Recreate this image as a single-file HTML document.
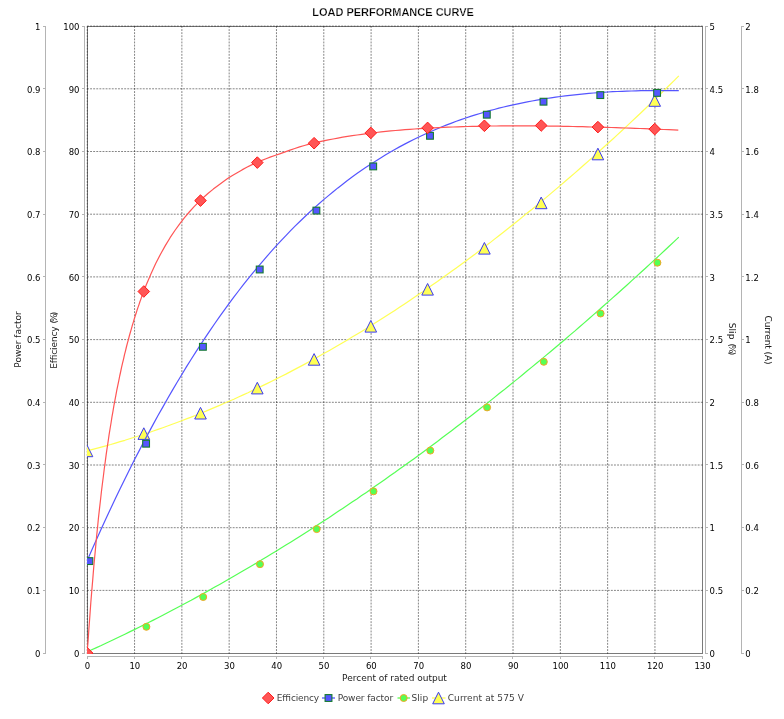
<!DOCTYPE html>
<html lang="en"><head><meta charset="utf-8"><title>LOAD PERFORMANCE CURVE</title>
<style>
html,body{margin:0;padding:0;background:#fff;}
body{width:784px;height:719px;overflow:hidden;}
svg{display:block;}
text{font-family:"DejaVu Sans","Liberation Sans",sans-serif;font-size:9px;fill:#1a1a1a;}
.title{font-family:"Liberation Sans","DejaVu Sans",sans-serif;font-weight:bold;font-size:11px;fill:#000;stroke:#fff;stroke-width:0.25px;}
.lg{fill:#404040;}
.tk text{font-size:8.5px;fill:#000;}
.grid line{stroke:#202020;stroke-width:0.55;stroke-dasharray:1.9 1.2;}
.axis line{stroke:#b4b4b4;stroke-width:1;shape-rendering:crispEdges;}
.curve g>path:first-child{fill:none;stroke-width:1.2;stroke-linejoin:round;}
</style></head><body>
<svg width="784" height="719" viewBox="0 0 784 719">
<rect width="784" height="719" fill="#ffffff"/>
<defs><clipPath id="pc"><rect x="87" y="26" width="616" height="628"/></clipPath></defs>
<text class="title" x="393.1" y="15.8" text-anchor="middle">LOAD PERFORMANCE CURVE</text>
<rect x="87.5" y="26.5" width="615" height="627" fill="#fff" stroke="#7a7a7a" stroke-width="1" shape-rendering="crispEdges"/>
<g class="grid">
<line x1="87.25" y1="26" x2="87.25" y2="654"/><line x1="134.56" y1="26" x2="134.56" y2="654"/><line x1="181.87" y1="26" x2="181.87" y2="654"/><line x1="229.17" y1="26" x2="229.17" y2="654"/><line x1="276.48" y1="26" x2="276.48" y2="654"/><line x1="323.79" y1="26" x2="323.79" y2="654"/><line x1="371.10" y1="26" x2="371.10" y2="654"/><line x1="418.40" y1="26" x2="418.40" y2="654"/><line x1="465.71" y1="26" x2="465.71" y2="654"/><line x1="513.02" y1="26" x2="513.02" y2="654"/><line x1="560.33" y1="26" x2="560.33" y2="654"/><line x1="607.63" y1="26" x2="607.63" y2="654"/><line x1="654.94" y1="26" x2="654.94" y2="654"/>
<line x1="87" y1="590.40" x2="703" y2="590.40"/><line x1="87" y1="527.70" x2="703" y2="527.70"/><line x1="87" y1="465.00" x2="703" y2="465.00"/><line x1="87" y1="402.30" x2="703" y2="402.30"/><line x1="87" y1="339.60" x2="703" y2="339.60"/><line x1="87" y1="276.90" x2="703" y2="276.90"/><line x1="87" y1="214.20" x2="703" y2="214.20"/><line x1="87" y1="151.50" x2="703" y2="151.50"/><line x1="87" y1="88.80" x2="703" y2="88.80"/><line x1="87" y1="26.10" x2="703" y2="26.10"/>
</g>
<g class="axis">
<line x1="45.5" y1="26" x2="45.5" y2="654"/><line x1="43.0" y1="653.5" x2="45.5" y2="653.5"/><line x1="43.0" y1="590.5" x2="45.5" y2="590.5"/><line x1="43.0" y1="527.5" x2="45.5" y2="527.5"/><line x1="43.0" y1="464.5" x2="45.5" y2="464.5"/><line x1="43.0" y1="402.5" x2="45.5" y2="402.5"/><line x1="43.0" y1="339.5" x2="45.5" y2="339.5"/><line x1="43.0" y1="276.5" x2="45.5" y2="276.5"/><line x1="43.0" y1="214.5" x2="45.5" y2="214.5"/><line x1="43.0" y1="151.5" x2="45.5" y2="151.5"/><line x1="43.0" y1="88.5" x2="45.5" y2="88.5"/><line x1="43.0" y1="26.5" x2="45.5" y2="26.5"/><line x1="84.5" y1="26" x2="84.5" y2="654"/><line x1="82.0" y1="653.5" x2="84.5" y2="653.5"/><line x1="82.0" y1="590.5" x2="84.5" y2="590.5"/><line x1="82.0" y1="527.5" x2="84.5" y2="527.5"/><line x1="82.0" y1="464.5" x2="84.5" y2="464.5"/><line x1="82.0" y1="402.5" x2="84.5" y2="402.5"/><line x1="82.0" y1="339.5" x2="84.5" y2="339.5"/><line x1="82.0" y1="276.5" x2="84.5" y2="276.5"/><line x1="82.0" y1="214.5" x2="84.5" y2="214.5"/><line x1="82.0" y1="151.5" x2="84.5" y2="151.5"/><line x1="82.0" y1="88.5" x2="84.5" y2="88.5"/><line x1="82.0" y1="26.5" x2="84.5" y2="26.5"/><line x1="705.5" y1="26" x2="705.5" y2="654"/><line x1="705.5" y1="653.5" x2="708.0" y2="653.5"/><line x1="705.5" y1="590.5" x2="708.0" y2="590.5"/><line x1="705.5" y1="527.5" x2="708.0" y2="527.5"/><line x1="705.5" y1="464.5" x2="708.0" y2="464.5"/><line x1="705.5" y1="402.5" x2="708.0" y2="402.5"/><line x1="705.5" y1="339.5" x2="708.0" y2="339.5"/><line x1="705.5" y1="276.5" x2="708.0" y2="276.5"/><line x1="705.5" y1="214.5" x2="708.0" y2="214.5"/><line x1="705.5" y1="151.5" x2="708.0" y2="151.5"/><line x1="705.5" y1="88.5" x2="708.0" y2="88.5"/><line x1="705.5" y1="26.5" x2="708.0" y2="26.5"/><line x1="741.5" y1="26" x2="741.5" y2="654"/><line x1="741.5" y1="653.5" x2="744.0" y2="653.5"/><line x1="741.5" y1="590.5" x2="744.0" y2="590.5"/><line x1="741.5" y1="527.5" x2="744.0" y2="527.5"/><line x1="741.5" y1="464.5" x2="744.0" y2="464.5"/><line x1="741.5" y1="402.5" x2="744.0" y2="402.5"/><line x1="741.5" y1="339.5" x2="744.0" y2="339.5"/><line x1="741.5" y1="276.5" x2="744.0" y2="276.5"/><line x1="741.5" y1="214.5" x2="744.0" y2="214.5"/><line x1="741.5" y1="151.5" x2="744.0" y2="151.5"/><line x1="741.5" y1="88.5" x2="744.0" y2="88.5"/><line x1="741.5" y1="26.5" x2="744.0" y2="26.5"/><line x1="87" y1="656.5" x2="703" y2="656.5"/><line x1="87.5" y1="656" x2="87.5" y2="659"/><line x1="134.5" y1="656" x2="134.5" y2="659"/><line x1="181.5" y1="656" x2="181.5" y2="659"/><line x1="228.5" y1="656" x2="228.5" y2="659"/><line x1="276.5" y1="656" x2="276.5" y2="659"/><line x1="323.5" y1="656" x2="323.5" y2="659"/><line x1="370.5" y1="656" x2="370.5" y2="659"/><line x1="418.5" y1="656" x2="418.5" y2="659"/><line x1="465.5" y1="656" x2="465.5" y2="659"/><line x1="512.5" y1="656" x2="512.5" y2="659"/><line x1="560.5" y1="656" x2="560.5" y2="659"/><line x1="607.5" y1="656" x2="607.5" y2="659"/><line x1="654.5" y1="656" x2="654.5" y2="659"/><line x1="702.5" y1="656" x2="702.5" y2="659"/>
</g>
<g class="tk">
<text x="40.5" y="656.8" text-anchor="end">0</text><text x="79.5" y="656.8" text-anchor="end">0</text><text x="709.6" y="656.8">0</text><text x="745.3" y="656.8">0</text><text x="40.5" y="594.1" text-anchor="end">0.1</text><text x="79.5" y="594.1" text-anchor="end">10</text><text x="709.6" y="594.1">0.5</text><text x="745.3" y="594.1">0.2</text><text x="40.5" y="531.4" text-anchor="end">0.2</text><text x="79.5" y="531.4" text-anchor="end">20</text><text x="709.6" y="531.4">1</text><text x="745.3" y="531.4">0.4</text><text x="40.5" y="468.7" text-anchor="end">0.3</text><text x="79.5" y="468.7" text-anchor="end">30</text><text x="709.6" y="468.7">1.5</text><text x="745.3" y="468.7">0.6</text><text x="40.5" y="406.0" text-anchor="end">0.4</text><text x="79.5" y="406.0" text-anchor="end">40</text><text x="709.6" y="406.0">2</text><text x="745.3" y="406.0">0.8</text><text x="40.5" y="343.3" text-anchor="end">0.5</text><text x="79.5" y="343.3" text-anchor="end">50</text><text x="709.6" y="343.3">2.5</text><text x="745.3" y="343.3">1</text><text x="40.5" y="280.6" text-anchor="end">0.6</text><text x="79.5" y="280.6" text-anchor="end">60</text><text x="709.6" y="280.6">3</text><text x="745.3" y="280.6">1.2</text><text x="40.5" y="217.9" text-anchor="end">0.7</text><text x="79.5" y="217.9" text-anchor="end">70</text><text x="709.6" y="217.9">3.5</text><text x="745.3" y="217.9">1.4</text><text x="40.5" y="155.2" text-anchor="end">0.8</text><text x="79.5" y="155.2" text-anchor="end">80</text><text x="709.6" y="155.2">4</text><text x="745.3" y="155.2">1.6</text><text x="40.5" y="92.5" text-anchor="end">0.9</text><text x="79.5" y="92.5" text-anchor="end">90</text><text x="709.6" y="92.5">4.5</text><text x="745.3" y="92.5">1.8</text><text x="40.5" y="29.8" text-anchor="end">1</text><text x="79.5" y="29.8" text-anchor="end">100</text><text x="709.6" y="29.8">5</text><text x="745.3" y="29.8">2</text>
<text x="87.5" y="668.6" text-anchor="middle">0</text><text x="134.8" y="668.6" text-anchor="middle">10</text><text x="182.1" y="668.6" text-anchor="middle">20</text><text x="229.4" y="668.6" text-anchor="middle">30</text><text x="276.7" y="668.6" text-anchor="middle">40</text><text x="324.0" y="668.6" text-anchor="middle">50</text><text x="371.3" y="668.6" text-anchor="middle">60</text><text x="418.7" y="668.6" text-anchor="middle">70</text><text x="466.0" y="668.6" text-anchor="middle">80</text><text x="513.3" y="668.6" text-anchor="middle">90</text><text x="560.6" y="668.6" text-anchor="middle">100</text><text x="607.9" y="668.6" text-anchor="middle">110</text><text x="655.2" y="668.6" text-anchor="middle">120</text><text x="702.5" y="668.6" text-anchor="middle">130</text>
</g>
<text x="394.5" y="681" text-anchor="middle">Percent of rated output</text>
<text transform="translate(21.3 339.5) rotate(-90)" text-anchor="middle">Power factor</text>
<text transform="translate(57.3 368.8) rotate(-90)"><tspan x="0" textLength="42.4">Efficiency</tspan><tspan x="44.2" letter-spacing="-1.85"> (%)</tspan></text>
<text transform="translate(728.5 322.8) rotate(90)"><tspan x="0" textLength="16.6">Slip</tspan><tspan x="19.6" letter-spacing="-1.85"> (%)</tspan></text>
<text transform="translate(764.9 340) rotate(90)" text-anchor="middle" textLength="49.2">Current (A)</text>
<g clip-path="url(#pc)" class="curve">
<g><path stroke="#ffff55" d="M87.0 450.9 L91.7 449.7 L96.5 448.4 L101.2 447.1 L105.9 445.8 L110.7 444.5 L115.4 443.1 L120.1 441.7 L124.9 440.3 L129.6 438.8 L134.3 437.3 L139.1 435.8 L143.8 434.2 L148.6 432.7 L153.3 431.0 L158.0 429.4 L162.8 427.7 L167.5 426.0 L172.2 424.3 L177.0 422.5 L181.7 420.8 L186.4 418.9 L191.2 417.1 L195.9 415.2 L200.6 413.3 L205.4 411.4 L210.1 409.4 L214.8 407.4 L219.6 405.4 L224.3 403.3 L229.0 401.3 L233.8 399.2 L238.5 397.0 L243.2 394.9 L248.0 392.7 L252.7 390.4 L257.5 388.2 L262.2 385.9 L266.9 383.6 L271.7 381.2 L276.4 378.9 L281.1 376.5 L285.9 374.1 L290.6 371.6 L295.3 369.1 L300.1 366.6 L304.8 364.1 L309.5 361.5 L314.3 358.9 L319.0 356.3 L323.7 353.6 L328.5 350.9 L333.2 348.2 L337.9 345.5 L342.7 342.7 L347.4 339.9 L352.1 337.1 L356.9 334.2 L361.6 331.4 L366.4 328.5 L371.1 325.5 L375.8 322.6 L380.6 319.6 L385.3 316.5 L390.0 313.5 L394.8 310.4 L399.5 307.3 L404.2 304.2 L409.0 301.0 L413.7 297.8 L418.4 294.6 L423.2 291.4 L427.9 288.1 L432.6 284.8 L437.4 281.5 L442.1 278.1 L446.8 274.7 L451.6 271.3 L456.3 267.9 L461.0 264.4 L465.8 260.9 L470.5 257.4 L475.3 253.9 L480.0 250.3 L484.7 246.7 L489.5 243.1 L494.2 239.4 L498.9 235.7 L503.7 232.0 L508.4 228.3 L513.1 224.5 L517.9 220.7 L522.6 216.9 L527.3 213.0 L532.1 209.2 L536.8 205.3 L541.5 201.3 L546.3 197.4 L551.0 193.4 L555.7 189.4 L560.5 185.4 L565.2 181.3 L569.9 177.2 L574.7 173.1 L579.4 169.0 L584.2 164.8 L588.9 160.6 L593.6 156.4 L598.4 152.1 L603.1 147.8 L607.8 143.5 L612.6 139.2 L617.3 134.9 L622.0 130.5 L626.8 126.1 L631.5 121.6 L636.2 117.2 L641.0 112.7 L645.7 108.2 L650.4 103.6 L655.2 99.1 L659.9 94.5 L664.6 89.9 L669.4 85.2 L674.1 80.6 L678.8 75.9"/>
<path d="M87.0 445.1 L92.8 456.7 L81.2 456.7 Z" fill="#ffff55" stroke="#3a3af0" stroke-width="1"/><path d="M143.8 427.8 L149.6 439.4 L138.0 439.4 Z" fill="#ffff55" stroke="#3a3af0" stroke-width="1"/><path d="M200.5 407.4 L206.3 419.0 L194.7 419.0 Z" fill="#ffff55" stroke="#3a3af0" stroke-width="1"/><path d="M257.3 382.3 L263.1 393.9 L251.5 393.9 Z" fill="#ffff55" stroke="#3a3af0" stroke-width="1"/><path d="M314.1 353.6 L319.9 365.2 L308.3 365.2 Z" fill="#ffff55" stroke="#3a3af0" stroke-width="1"/><path d="M370.8 320.5 L376.6 332.1 L365.0 332.1 Z" fill="#ffff55" stroke="#3a3af0" stroke-width="1"/><path d="M427.6 283.5 L433.4 295.1 L421.8 295.1 Z" fill="#ffff55" stroke="#3a3af0" stroke-width="1"/><path d="M484.4 242.5 L490.2 254.1 L478.6 254.1 Z" fill="#ffff55" stroke="#3a3af0" stroke-width="1"/><path d="M541.2 197.1 L547.0 208.7 L535.4 208.7 Z" fill="#ffff55" stroke="#3a3af0" stroke-width="1"/><path d="M597.9 148.2 L603.7 159.8 L592.1 159.8 Z" fill="#ffff55" stroke="#3a3af0" stroke-width="1"/><path d="M654.7 94.7 L660.5 106.3 L648.9 106.3 Z" fill="#ffff55" stroke="#3a3af0" stroke-width="1"/></g>
<g><path stroke="#55ff55" d="M87.0 652.0 L91.7 649.8 L96.5 647.6 L101.2 645.5 L105.9 643.2 L110.7 641.0 L115.4 638.8 L120.1 636.5 L124.9 634.2 L129.6 631.9 L134.3 629.6 L139.1 627.2 L143.8 624.9 L148.6 622.5 L153.3 620.1 L158.0 617.7 L162.8 615.2 L167.5 612.8 L172.2 610.3 L177.0 607.8 L181.7 605.3 L186.4 602.7 L191.2 600.2 L195.9 597.6 L200.6 595.0 L205.4 592.4 L210.1 589.8 L214.8 587.1 L219.6 584.4 L224.3 581.8 L229.0 579.1 L233.8 576.3 L238.5 573.6 L243.2 570.8 L248.0 568.0 L252.7 565.2 L257.5 562.4 L262.2 559.6 L266.9 556.7 L271.7 553.8 L276.4 551.0 L281.1 548.0 L285.9 545.1 L290.6 542.2 L295.3 539.2 L300.1 536.2 L304.8 533.2 L309.5 530.2 L314.3 527.1 L319.0 524.1 L323.7 521.0 L328.5 517.9 L333.2 514.7 L337.9 511.6 L342.7 508.4 L347.4 505.3 L352.1 502.1 L356.9 498.9 L361.6 495.6 L366.4 492.4 L371.1 489.1 L375.8 485.8 L380.6 482.5 L385.3 479.2 L390.0 475.8 L394.8 472.5 L399.5 469.1 L404.2 465.7 L409.0 462.3 L413.7 458.9 L418.4 455.4 L423.2 451.9 L427.9 448.4 L432.6 444.9 L437.4 441.4 L442.1 437.8 L446.8 434.3 L451.6 430.7 L456.3 427.1 L461.0 423.5 L465.8 419.8 L470.5 416.2 L475.3 412.5 L480.0 408.8 L484.7 405.1 L489.5 401.4 L494.2 397.6 L498.9 393.8 L503.7 390.1 L508.4 386.2 L513.1 382.4 L517.9 378.6 L522.6 374.7 L527.3 370.8 L532.1 366.9 L536.8 363.0 L541.5 359.1 L546.3 355.1 L551.0 351.2 L555.7 347.2 L560.5 343.2 L565.2 339.2 L569.9 335.1 L574.7 331.1 L579.4 327.0 L584.2 322.9 L588.9 318.8 L593.6 314.6 L598.4 310.5 L603.1 306.3 L607.8 302.1 L612.6 297.9 L617.3 293.7 L622.0 289.5 L626.8 285.2 L631.5 280.9 L636.2 276.6 L641.0 272.3 L645.7 268.0 L650.4 263.6 L655.2 259.3 L659.9 254.9 L664.6 250.5 L669.4 246.0 L674.1 241.6 L678.8 237.1"/>
<circle cx="146.4" cy="626.8" r="3.5" fill="#55ff55" stroke="#f5a623" stroke-width="1"/><circle cx="203.2" cy="597.0" r="3.5" fill="#55ff55" stroke="#f5a623" stroke-width="1"/><circle cx="260.0" cy="564.2" r="3.5" fill="#55ff55" stroke="#f5a623" stroke-width="1"/><circle cx="316.7" cy="529.1" r="3.5" fill="#55ff55" stroke="#f5a623" stroke-width="1"/><circle cx="373.5" cy="491.3" r="3.5" fill="#55ff55" stroke="#f5a623" stroke-width="1"/><circle cx="430.3" cy="450.6" r="3.5" fill="#55ff55" stroke="#f5a623" stroke-width="1"/><circle cx="487.1" cy="407.4" r="3.5" fill="#55ff55" stroke="#f5a623" stroke-width="1"/><circle cx="543.8" cy="361.8" r="3.5" fill="#55ff55" stroke="#f5a623" stroke-width="1"/><circle cx="600.6" cy="313.5" r="3.5" fill="#55ff55" stroke="#f5a623" stroke-width="1"/><circle cx="657.4" cy="262.7" r="3.5" fill="#55ff55" stroke="#f5a623" stroke-width="1"/></g>
<g><path stroke="#5555ff" d="M87.0 561.1 L91.7 550.2 L96.5 539.6 L101.2 529.1 L105.9 518.7 L110.7 508.6 L115.4 498.6 L120.1 488.7 L124.9 479.0 L129.6 469.5 L134.3 460.1 L139.1 450.9 L143.8 441.8 L148.6 432.9 L153.3 424.1 L158.0 415.5 L162.8 407.1 L167.5 398.7 L172.2 390.6 L177.0 382.5 L181.7 374.7 L186.4 366.9 L191.2 359.3 L195.9 351.9 L200.6 344.6 L205.4 337.4 L210.1 330.4 L214.8 323.5 L219.6 316.7 L224.3 310.1 L229.0 303.6 L233.8 297.2 L238.5 291.0 L243.2 284.9 L248.0 278.9 L252.7 273.1 L257.5 267.4 L262.2 261.8 L266.9 256.3 L271.7 250.9 L276.4 245.7 L281.1 240.6 L285.9 235.6 L290.6 230.7 L295.3 225.9 L300.1 221.3 L304.8 216.7 L309.5 212.3 L314.3 207.9 L319.0 203.7 L323.7 199.6 L328.5 195.6 L333.2 191.7 L337.9 187.9 L342.7 184.2 L347.4 180.6 L352.1 177.0 L356.9 173.6 L361.6 170.3 L366.4 167.1 L371.1 163.9 L375.8 160.9 L380.6 157.9 L385.3 155.0 L390.0 152.2 L394.8 149.5 L399.5 146.9 L404.2 144.4 L409.0 141.9 L413.7 139.5 L418.4 137.2 L423.2 135.0 L427.9 132.8 L432.6 130.7 L437.4 128.7 L442.1 126.7 L446.8 124.9 L451.6 123.1 L456.3 121.3 L461.0 119.6 L465.8 118.0 L470.5 116.4 L475.3 114.9 L480.0 113.5 L484.7 112.1 L489.5 110.7 L494.2 109.5 L498.9 108.2 L503.7 107.0 L508.4 105.9 L513.1 104.8 L517.9 103.8 L522.6 102.8 L527.3 101.9 L532.1 101.0 L536.8 100.1 L541.5 99.3 L546.3 98.5 L551.0 97.8 L555.7 97.1 L560.5 96.5 L565.2 95.9 L569.9 95.3 L574.7 94.8 L579.4 94.3 L584.2 93.8 L588.9 93.4 L593.6 93.0 L598.4 92.6 L603.1 92.3 L607.8 92.0 L612.6 91.7 L617.3 91.5 L622.0 91.3 L626.8 91.1 L631.5 91.0 L636.2 90.8 L641.0 90.7 L645.7 90.7 L650.4 90.6 L655.2 90.6 L659.9 90.5 L664.6 90.6 L669.4 90.6 L674.1 90.6 L678.8 90.7"/>
<rect x="86.0" y="557.7" width="6.8" height="6.8" fill="#5555ff" stroke="#157a30" stroke-width="1.1"/><rect x="142.7" y="440.3" width="6.8" height="6.8" fill="#5555ff" stroke="#157a30" stroke-width="1.1"/><rect x="199.5" y="343.4" width="6.8" height="6.8" fill="#5555ff" stroke="#157a30" stroke-width="1.1"/><rect x="256.3" y="266.1" width="6.8" height="6.8" fill="#5555ff" stroke="#157a30" stroke-width="1.1"/><rect x="313.0" y="207.2" width="6.8" height="6.8" fill="#5555ff" stroke="#157a30" stroke-width="1.1"/><rect x="369.8" y="163.0" width="6.8" height="6.8" fill="#5555ff" stroke="#157a30" stroke-width="1.1"/><rect x="426.6" y="132.4" width="6.8" height="6.8" fill="#5555ff" stroke="#157a30" stroke-width="1.1"/><rect x="483.4" y="111.3" width="6.8" height="6.8" fill="#5555ff" stroke="#157a30" stroke-width="1.1"/><rect x="540.1" y="98.3" width="6.8" height="6.8" fill="#5555ff" stroke="#157a30" stroke-width="1.1"/><rect x="596.9" y="91.7" width="6.8" height="6.8" fill="#5555ff" stroke="#157a30" stroke-width="1.1"/><rect x="653.7" y="89.5" width="6.8" height="6.8" fill="#5555ff" stroke="#157a30" stroke-width="1.1"/></g>
<g><path stroke="#ff5555" d="M87.0 653.0 L87.0 653.0 L88.0 642.2 L88.9 628.7 L89.9 615.5 L90.8 602.8 L91.8 590.6 L92.8 578.9 L93.7 567.6 L94.7 556.8 L95.7 546.4 L96.6 536.4 L97.6 526.8 L98.5 517.5 L99.5 508.6 L100.5 500.0 L101.4 491.7 L102.4 483.7 L103.4 476.0 L104.3 468.5 L105.3 461.3 L106.2 454.3 L107.2 447.5 L108.2 441.0 L109.1 434.6 L110.1 428.5 L111.1 422.5 L112.0 416.7 L113.0 411.1 L113.9 405.6 L114.9 400.4 L115.9 395.2 L116.8 390.2 L117.8 385.3 L118.8 380.6 L119.7 376.0 L120.7 371.5 L121.6 367.2 L122.6 362.9 L123.6 358.8 L124.5 354.7 L125.5 350.8 L126.4 347.0 L127.4 343.2 L128.4 339.6 L129.3 336.0 L130.3 332.5 L131.3 329.1 L132.2 325.8 L133.2 322.6 L134.1 319.4 L135.1 316.3 L136.1 313.3 L137.0 310.3 L138.0 307.4 L139.0 304.6 L139.9 301.8 L140.9 299.1 L141.8 296.4 L142.8 293.8 L143.8 291.3 L146.1 285.2 L150.9 273.9 L155.7 263.6 L160.5 254.2 L165.3 245.6 L170.1 237.7 L174.9 230.5 L179.7 223.8 L184.5 217.7 L189.3 212.0 L194.1 206.7 L198.9 201.8 L203.7 197.3 L208.5 193.0 L213.3 189.1 L218.1 185.4 L222.8 181.9 L227.6 178.6 L232.4 175.5 L237.2 172.7 L242.0 169.9 L246.8 167.3 L251.6 164.9 L256.4 162.7 L261.2 160.6 L266.0 158.7 L270.8 156.9 L275.6 155.3 L280.4 153.6 L285.2 151.9 L290.0 150.1 L294.8 148.5 L299.6 146.9 L304.4 145.5 L309.2 144.2 L313.9 143.1 L318.7 141.9 L323.5 140.9 L328.3 139.9 L333.1 139.0 L337.9 138.1 L342.7 137.2 L347.5 136.4 L352.3 135.7 L357.1 135.0 L361.9 134.3 L366.7 133.6 L371.5 133.0 L376.3 132.5 L381.1 131.9 L385.9 131.4 L390.7 130.9 L395.5 130.5 L400.3 130.1 L405.0 129.7 L409.8 129.3 L414.6 129.0 L419.4 128.6 L424.2 128.3 L429.0 128.1 L433.8 127.8 L438.6 127.6 L443.4 127.3 L448.2 127.1 L453.0 127.0 L457.8 126.8 L462.6 126.6 L467.4 126.5 L472.2 126.4 L477.0 126.3 L481.8 126.2 L486.6 126.1 L491.4 126.0 L496.1 126.0 L500.9 125.9 L505.7 125.9 L510.5 125.9 L515.3 125.9 L520.1 125.9 L524.9 125.9 L529.7 125.9 L534.5 125.9 L539.3 126.0 L544.1 126.0 L548.9 126.1 L553.7 126.2 L558.5 126.2 L563.3 126.3 L568.1 126.4 L572.9 126.5 L577.7 126.6 L582.5 126.7 L587.2 126.8 L592.0 127.0 L596.8 127.1 L601.6 127.2 L606.4 127.4 L611.2 127.5 L616.0 127.7 L620.8 127.8 L625.6 128.0 L630.4 128.2 L635.2 128.4 L640.0 128.5 L644.8 128.7 L649.6 128.9 L654.4 129.1 L659.2 129.3 L664.0 129.5 L668.8 129.7 L673.6 129.9 L678.3 130.1"/>
<path d="M87.0 647.2 L92.8 653.0 L87.0 658.8 L81.2 653.0 Z" fill="#ff5555" stroke="#ff1a1a" stroke-width="1"/><path d="M143.8 285.7 L149.6 291.5 L143.8 297.3 L138.0 291.5 Z" fill="#ff5555" stroke="#ff1a1a" stroke-width="1"/><path d="M200.5 194.8 L206.3 200.6 L200.5 206.4 L194.7 200.6 Z" fill="#ff5555" stroke="#ff1a1a" stroke-width="1"/><path d="M257.3 156.8 L263.1 162.6 L257.3 168.4 L251.5 162.6 Z" fill="#ff5555" stroke="#ff1a1a" stroke-width="1"/><path d="M314.1 137.4 L319.9 143.2 L314.1 149.0 L308.3 143.2 Z" fill="#ff5555" stroke="#ff1a1a" stroke-width="1"/><path d="M370.8 127.1 L376.6 132.9 L370.8 138.7 L365.0 132.9 Z" fill="#ff5555" stroke="#ff1a1a" stroke-width="1"/><path d="M427.6 122.1 L433.4 127.9 L427.6 133.7 L421.8 127.9 Z" fill="#ff5555" stroke="#ff1a1a" stroke-width="1"/><path d="M484.4 120.0 L490.2 125.8 L484.4 131.6 L478.6 125.8 Z" fill="#ff5555" stroke="#ff1a1a" stroke-width="1"/><path d="M541.2 119.7 L547.0 125.5 L541.2 131.3 L535.4 125.5 Z" fill="#ff5555" stroke="#ff1a1a" stroke-width="1"/><path d="M597.9 121.3 L603.7 127.1 L597.9 132.9 L592.1 127.1 Z" fill="#ff5555" stroke="#ff1a1a" stroke-width="1"/><path d="M654.7 123.3 L660.5 129.1 L654.7 134.9 L648.9 129.1 Z" fill="#ff5555" stroke="#ff1a1a" stroke-width="1"/></g>
</g>
<g>
<path d="M268.2 692.2 L274.0 698.0 L268.2 703.8 L262.4 698.0 Z" fill="#ff5555" stroke="#ff1a1a" stroke-width="1"/>
<text class="lg" x="276.8" y="701.3" textLength="42.4">Efficiency</text>
<line x1="322" y1="698.0" x2="335" y2="698.0" stroke="#5555ff" stroke-width="1.3"/><rect x="325.1" y="694.6" width="6.8" height="6.8" fill="#5555ff" stroke="#157a30" stroke-width="1.1"/>
<text class="lg" x="337.7" y="701.3" textLength="55.4">Power factor</text>
<line x1="397.5" y1="698.0" x2="410" y2="698.0" stroke="#55ff55" stroke-width="1.3"/><circle cx="403.7" cy="698.0" r="3.5" fill="#55ff55" stroke="#f5a623" stroke-width="1"/>
<text class="lg" x="411.5" y="701.3" textLength="16.6">Slip</text>
<line x1="432" y1="698.0" x2="445.5" y2="698.0" stroke="#ffff55" stroke-width="1.3"/><path d="M438.5 692.2 L444.3 703.8 L432.7 703.8 Z" fill="#ffff55" stroke="#3a3af0" stroke-width="1"/>
<text class="lg" x="447.7" y="701.3" textLength="76.2">Current at 575 V</text>
</g>
</svg>
</body></html>
